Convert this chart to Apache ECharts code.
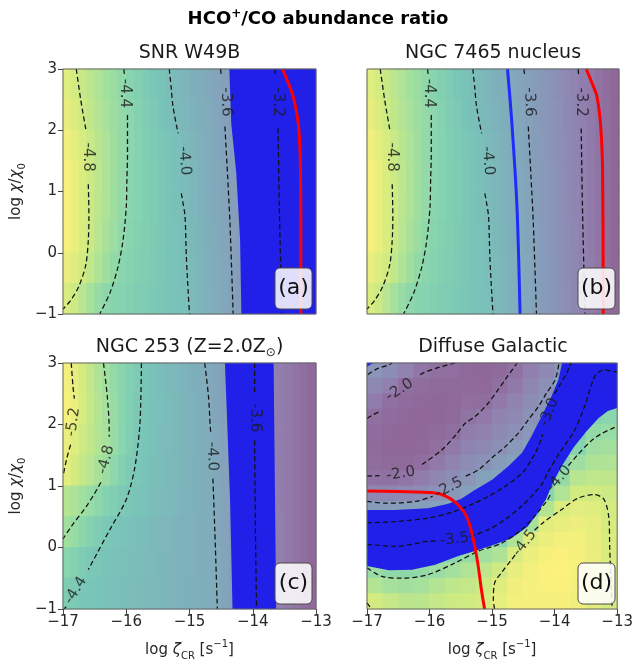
<!DOCTYPE html>
<html><head><meta charset="utf-8">
<script src="https://cdn.jsdelivr.net/npm/echarts@6/dist/echarts.min.js"></script>
<style>html,body{margin:0;padding:0;background:#fff}#c{width:636px;height:666px}</style>
</head><body><div id="c"></div>
<script>
const FONT = "DejaVu Sans";
// ---------- axes ----------
const xTicks = [-17, -16, -15, -14, -13];
const yTicks = [-1, 0, 1, 2, 3];
// ---------- model grid (cell centres) ----------
const cellX32 = [-16.9375,-16.8125,-16.6875,-16.5625,-16.4375,-16.3125,-16.1875,-16.0625,-15.9375,-15.8125,-15.6875,-15.5625,-15.4375,-15.3125,-15.1875,-15.0625,
                 -14.9375,-14.8125,-14.6875,-14.5625,-14.4375,-14.3125,-14.1875,-14.0625,-13.9375,-13.8125,-13.6875,-13.5625,-13.4375,-13.3125,-13.1875,-13.0625];
const cellX16 = [-16.875,-16.625,-16.375,-16.125,-15.875,-15.625,-15.375,-15.125,-14.875,-14.625,-14.375,-14.125,-13.875,-13.625,-13.375,-13.125];
const cellY8 = [2.75,2.25,1.75,1.25,0.75,0.25,-0.25,-0.75];
const cellY16 = [2.875,2.625,2.375,2.125,1.875,1.625,1.375,1.125,0.875,0.625,0.375,0.125,-0.125,-0.375,-0.625,-0.875];
// log(HCO+/CO) for panels (a) and (b)
const ratioAB = [
 [-4.89,-4.82,-4.76,-4.69,-4.62,-4.55,-4.49,-4.42,-4.35,-4.28,-4.21,-4.14,-4.08,-4.01,-3.94,-3.88,-3.82,-3.76,-3.70,-3.64,-3.58,-3.52,-3.46,-3.40,-3.34,-3.28,-3.22,-3.16,-3.11,-3.05,-2.99,-2.93],
 [-4.93,-4.86,-4.79,-4.72,-4.65,-4.58,-4.51,-4.44,-4.38,-4.31,-4.24,-4.17,-4.10,-4.03,-3.96,-3.90,-3.84,-3.78,-3.72,-3.66,-3.60,-3.54,-3.48,-3.42,-3.36,-3.30,-3.24,-3.18,-3.12,-3.06,-3.00,-2.94],
 [-4.98,-4.91,-4.84,-4.76,-4.68,-4.61,-4.53,-4.45,-4.38,-4.32,-4.26,-4.20,-4.14,-4.08,-4.02,-3.95,-3.88,-3.81,-3.74,-3.67,-3.61,-3.55,-3.49,-3.43,-3.37,-3.31,-3.25,-3.18,-3.12,-3.06,-3.00,-2.94],
 [-5.01,-4.94,-4.86,-4.78,-4.70,-4.61,-4.53,-4.45,-4.38,-4.32,-4.26,-4.21,-4.15,-4.09,-4.03,-3.97,-3.90,-3.83,-3.76,-3.69,-3.63,-3.56,-3.50,-3.44,-3.37,-3.31,-3.25,-3.18,-3.12,-3.06,-3.00,-2.94],
 [-5.01,-4.94,-4.86,-4.78,-4.69,-4.61,-4.52,-4.44,-4.37,-4.32,-4.26,-4.21,-4.15,-4.10,-4.04,-3.98,-3.91,-3.84,-3.77,-3.70,-3.64,-3.57,-3.50,-3.44,-3.38,-3.31,-3.25,-3.19,-3.12,-3.06,-3.00,-2.94],
 [-5.01,-4.94,-4.86,-4.77,-4.68,-4.59,-4.50,-4.41,-4.35,-4.30,-4.25,-4.20,-4.15,-4.10,-4.05,-4.00,-3.93,-3.86,-3.79,-3.72,-3.65,-3.58,-3.52,-3.45,-3.39,-3.33,-3.26,-3.20,-3.13,-3.07,-3.01,-2.94],
 [-4.95,-4.88,-4.81,-4.72,-4.63,-4.53,-4.43,-4.37,-4.33,-4.28,-4.24,-4.19,-4.15,-4.10,-4.06,-4.01,-3.95,-3.88,-3.80,-3.73,-3.66,-3.59,-3.53,-3.46,-3.40,-3.33,-3.27,-3.20,-3.14,-3.07,-3.01,-2.94],
 [-4.85,-4.78,-4.67,-4.57,-4.47,-4.39,-4.35,-4.32,-4.28,-4.24,-4.21,-4.17,-4.13,-4.09,-4.06,-4.02,-3.96,-3.89,-3.81,-3.74,-3.67,-3.60,-3.53,-3.47,-3.40,-3.34,-3.27,-3.21,-3.14,-3.07,-3.01,-2.94]
];
// panel (c)
const ratioC = [
 [-5.25,-5.17,-5.08,-4.98,-4.88,-4.79,-4.70,-4.62,-4.53,-4.44,-4.37,-4.32,-4.27,-4.22,-4.17,-4.12,-4.08,-4.03,-3.98,-3.91,-3.84,-3.78,-3.71,-3.65,-3.59,-3.54,-3.48,-3.43,-3.38,-3.33,-3.27,-3.22],
 [-5.26,-5.19,-5.09,-5.00,-4.91,-4.82,-4.72,-4.62,-4.53,-4.43,-4.37,-4.32,-4.28,-4.23,-4.19,-4.14,-4.09,-4.05,-3.99,-3.92,-3.85,-3.78,-3.71,-3.64,-3.59,-3.54,-3.48,-3.43,-3.38,-3.33,-3.27,-3.22],
 [-5.20,-5.13,-5.05,-4.98,-4.90,-4.83,-4.73,-4.62,-4.51,-4.40,-4.36,-4.31,-4.27,-4.23,-4.18,-4.14,-4.10,-4.05,-4.01,-3.94,-3.87,-3.79,-3.72,-3.65,-3.59,-3.54,-3.48,-3.43,-3.38,-3.33,-3.27,-3.22],
 [-5.16,-5.08,-5.00,-4.92,-4.84,-4.76,-4.66,-4.55,-4.45,-4.38,-4.34,-4.30,-4.26,-4.22,-4.18,-4.14,-4.10,-4.06,-4.02,-3.95,-3.88,-3.80,-3.73,-3.65,-3.59,-3.54,-3.48,-3.43,-3.38,-3.33,-3.27,-3.22],
 [-4.91,-4.86,-4.79,-4.72,-4.65,-4.57,-4.50,-4.43,-4.38,-4.34,-4.31,-4.27,-4.24,-4.20,-4.16,-4.13,-4.09,-4.06,-4.02,-3.97,-3.89,-3.81,-3.74,-3.66,-3.60,-3.54,-3.49,-3.43,-3.38,-3.33,-3.27,-3.22],
 [-4.79,-4.72,-4.64,-4.56,-4.49,-4.41,-4.37,-4.34,-4.31,-4.28,-4.25,-4.22,-4.19,-4.16,-4.13,-4.10,-4.07,-4.04,-4.02,-3.98,-3.90,-3.82,-3.75,-3.67,-3.60,-3.55,-3.49,-3.44,-3.38,-3.33,-3.27,-3.22],
 [-4.62,-4.55,-4.48,-4.41,-4.38,-4.35,-4.33,-4.30,-4.28,-4.25,-4.23,-4.20,-4.18,-4.15,-4.12,-4.10,-4.07,-4.05,-4.02,-3.99,-3.91,-3.83,-3.75,-3.67,-3.60,-3.55,-3.49,-3.44,-3.38,-3.33,-3.27,-3.22],
 [-4.48,-4.43,-4.39,-4.37,-4.35,-4.33,-4.30,-4.28,-4.26,-4.24,-4.21,-4.19,-4.17,-4.15,-4.12,-4.10,-4.08,-4.06,-4.03,-3.99,-3.91,-3.83,-3.75,-3.67,-3.60,-3.55,-3.49,-3.44,-3.38,-3.33,-3.27,-3.22]
];
// panel (d)
const ratioD = [
 [-2.55,-2.42,-2.25,-2.05,-1.98,-1.95,-1.88,-1.87,-1.90,-2.02,-2.20,-2.35,-2.58,-3.12,-3.46,-3.50],
 [-2.35,-2.20,-1.98,-1.93,-1.90,-1.90,-1.90,-1.88,-1.98,-2.12,-2.30,-2.45,-2.98,-3.22,-3.55,-3.60],
 [-2.16,-1.98,-1.92,-1.88,-1.87,-1.88,-1.95,-1.93,-2.12,-2.25,-2.40,-2.55,-3.12,-3.33,-3.65,-3.72],
 [-1.98,-1.92,-1.88,-1.86,-1.87,-1.90,-2.03,-2.10,-2.25,-2.35,-2.48,-2.70,-3.25,-3.43,-3.77,-3.85],
 [-1.92,-1.88,-1.86,-1.86,-1.90,-1.97,-2.15,-2.22,-2.35,-2.45,-2.60,-3.03,-3.37,-3.58,-3.93,-3.97],
 [-1.90,-1.87,-1.86,-1.88,-1.96,-2.10,-2.28,-2.35,-2.47,-2.62,-2.80,-3.19,-3.49,-3.78,-4.06,-4.10],
 [-1.93,-1.90,-1.90,-1.95,-2.10,-2.25,-2.40,-2.50,-2.68,-2.80,-3.05,-3.34,-3.70,-4.05,-4.18,-4.20],
 [-2.02,-2.00,-2.05,-2.15,-2.30,-2.42,-2.55,-2.78,-2.85,-3.00,-3.30,-3.48,-3.95,-4.25,-4.32,-4.30],
 [-2.33,-2.33,-2.35,-2.42,-2.48,-2.60,-2.75,-2.95,-3.05,-3.25,-3.52,-3.83,-4.20,-4.45,-4.45,-4.40],
 [-2.67,-2.67,-2.70,-2.73,-2.80,-2.97,-3.09,-3.20,-3.30,-3.50,-3.75,-4.22,-4.52,-4.57,-4.55,-4.46],
 [-3.05,-3.08,-3.08,-3.10,-3.17,-3.28,-3.33,-3.40,-3.55,-3.82,-4.12,-4.58,-4.62,-4.65,-4.60,-4.48],
 [-3.39,-3.38,-3.40,-3.43,-3.47,-3.55,-3.60,-3.70,-3.85,-4.20,-4.55,-4.65,-4.70,-4.70,-4.62,-4.50],
 [-3.69,-3.65,-3.63,-3.66,-3.75,-3.82,-3.96,-4.07,-4.18,-4.50,-4.65,-4.72,-4.75,-4.72,-4.63,-4.50],
 [-3.98,-3.90,-3.88,-3.92,-4.00,-4.10,-4.20,-4.30,-4.43,-4.62,-4.70,-4.75,-4.76,-4.72,-4.62,-4.50],
 [-4.22,-4.12,-4.08,-4.12,-4.22,-4.30,-4.35,-4.42,-4.55,-4.68,-4.72,-4.75,-4.75,-4.70,-4.60,-4.49],
 [-4.46,-4.36,-4.28,-4.28,-4.36,-4.42,-4.44,-4.48,-4.60,-4.70,-4.72,-4.72,-4.72,-4.68,-4.58,-4.48]
];
// ---------- contours (segments broken where the inline labels sit) ----------
const contourAB = [
 [[-16.79,3],[-16.72,2.5],[-16.64,2.02]],
 [[-16.6,1.12],[-16.59,0.6],[-16.6,0.2],[-16.64,-0.2],[-16.75,-0.55],[-16.88,-0.78],[-17,-0.92]],
 [[-16.04,3],[-16.03,2.92]],
 [[-15.98,2.25],[-15.98,1.6],[-15.99,1.19],[-16.0,0.75],[-16.05,0.21],[-16.13,-0.23],[-16.26,-0.66],[-16.42,-1]],
 [[-15.32,3],[-15.29,2.7],[-15.26,2.38],[-15.18,1.95]],
 [[-15.13,0.97],[-15.1,0.8],[-15.07,0.59],[-15.05,-0.06],[-15.02,-0.66],[-15.0,-1]],
 [[-14.51,3],[-14.5,2.92]],
 [[-14.44,2.06],[-14.4,1.3],[-14.36,0.48],[-14.31,-1]],
 [[-13.65,3],[-13.64,2.9]],
 [[-13.6,2.03],[-13.58,0.75],[-13.54,-1]]
];
const labelsAB = [[-16.6,1.56,'-4.8',-90],[-16.02,2.6,'-4.4',-90],[-15.08,1.5,'-4.0',-85],[-14.42,2.46,'-3.6',-88],[-13.61,2.46,'-3.2',-90]];
const redA = [[-13.53,3],[-13.43,2.75],[-13.36,2.55],[-13.28,2.11],[-13.25,1.57],[-13.24,0.5],[-13.24,-1]];
const blueZoneA = [[[-14.37,3],[-14.34,2.11],[-14.26,1.3],[-14.2,0.21],[-14.18,-1],[-13,-1],[-13,3]]];
const redB = [[-13.52,3],[-13.42,2.75],[-13.35,2.55],[-13.29,2.06],[-13.26,1.3],[-13.25,-1]];
const blueLineB = [[-14.77,3],[-14.7,2.11],[-14.62,0.76],[-14.57,-1]];

const contourC = [
 [[-16.87,3],[-16.84,2.6],[-16.82,2.42]],
 [[-16.88,1.67],[-16.94,1.45],[-16.99,1.21]],
 [[-16.36,3],[-16.3,2.46],[-16.27,1.92],[-16.27,1.8]],
 [[-16.4,1.06],[-16.5,0.88],[-16.63,0.67],[-16.87,0.34],[-17,0.14]],
 [[-15.76,3],[-15.77,2.4],[-15.79,1.92],[-15.87,1.27],[-16.0,0.78],[-16.26,0.29],[-16.6,-0.36]],
 [[-16.95,-0.96],[-16.98,-1]],
 [[-14.76,3],[-14.7,2.46],[-14.67,1.94],[-14.66,1.84]],
 [[-14.63,1.12],[-14.6,0.29],[-14.56,-1]],
 [[-13.97,3],[-13.97,2.48]],
 [[-13.97,1.74],[-13.96,0.5],[-13.94,-1]]
];
const labelsC = [[-16.84,2.04,'-5.2',82],[-16.32,1.43,'-4.8',75],[-16.8,-0.7,'-4.4',58],[-14.64,1.48,'-4.0',-88],[-13.97,2.11,'-3.6',-90]];
const blueZoneC = [[[-14.44,3],[-14.4,1.92],[-14.36,0.83],[-14.32,-1],[-13.63,-1],[-13.65,1.0],[-13.67,3]]];

const contourD = [
 [[-17,2.1],[-16.9,2.16],[-16.8,2.21]],
 [[-16.15,2.81],[-16.1,2.84],[-15.85,2.93],[-15.59,3.0]],
 [[-16.99,2.81],[-16.85,2.9],[-16.65,2.97],[-16.6,3.0]],
 [[-17,1.16],[-16.8,1.17]],
 [[-16.12,1.35],[-15.8,1.59],[-15.58,1.83],[-15.43,2.02],[-15.27,2.13],[-15.06,2.35],[-14.9,2.57],[-14.79,2.73],[-14.6,3.0]],
 [[-17,0.75],[-16.69,0.72],[-16.22,0.75],[-15.95,0.83]],
 [[-15.42,1.16],[-15.21,1.27],[-15.0,1.46],[-14.79,1.64],[-14.58,1.86],[-14.42,2.08],[-14.26,2.29],[-14.13,2.51],[-13.99,2.73],[-13.93,3.0]],
 [[-17,0.40],[-16.55,0.42],[-16.02,0.48],[-15.59,0.59],[-15.33,0.70],[-15.06,0.83],[-14.80,0.99],[-14.52,1.21],[-14.37,1.43],[-14.26,1.64],[-14.19,1.84]],
 [[-14.0,2.5],[-13.94,2.6],[-13.8,2.85],[-13.74,3.0]],
 [[-17,0.05],[-16.55,0.02],[-16.02,0.10],[-15.85,0.11]],
 [[-15.35,0.18],[-15.06,0.29],[-14.80,0.45],[-14.53,0.67],[-14.32,0.89],[-14.19,1.05],[-14.11,1.22],[-13.90,1.57],[-13.69,1.89],[-13.53,2.27],[-13.37,2.76],[-13.3,2.85],[-13.2,2.89],[-13.06,2.86],[-13,2.86]],
 [[-17,-0.33],[-16.76,-0.47],[-16.44,-0.50],[-16.02,-0.44],[-15.59,-0.25],[-15.22,-0.06],[-14.85,0.07],[-14.53,0.29],[-14.32,0.51],[-14.11,0.78],[-14.06,0.88]],
 [[-13.78,1.33],[-13.63,1.51],[-13.42,1.73],[-13.27,1.84],[-13.05,1.95],[-13,1.97]],
 [[-14.96,-1],[-14.98,-0.85],[-14.96,-0.58],[-14.85,-0.41],[-14.69,-0.2],[-14.63,-0.12]],
 [[-14.32,0.28],[-14.19,0.40],[-13.90,0.61],[-13.63,0.80],[-13.37,0.86],[-13.21,0.78],[-13.13,0.45],[-13.12,0.02],[-13.10,-0.52],[-13.08,-1.0]],
 [[-17,-0.9],[-16.93,-1.0]]
];
const labelsD = [[-16.48,2.56,'-2.0',33],[-16.46,1.2,'-2.0',10],[-15.69,0.97,'-2.5',28],[-14.09,2.2,'-3.0',68],[-15.6,0.13,'-3.5',6],[-13.93,1.12,'-4.0',50],[-14.48,0.07,'-4.5',52]];
const redD = [[-17,0.92],[-16.5,0.91],[-15.94,0.89],[-15.75,0.84],[-15.57,0.72],[-15.41,0.51],[-15.31,0.18],[-15.23,-0.25],[-15.17,-0.69],[-15.12,-1.0]];
const blueZoneD = [
 [[-17,0.61],[-16.55,0.61],[-16.02,0.64],[-15.7,0.71],[-15.5,0.79],[-15.27,0.94],[-15.0,1.10],[-14.74,1.32],[-14.52,1.54],[-14.37,1.81],[-14.21,2.13],[-14.05,2.46],[-13.94,2.73],[-13.88,3.0],[-13,3.0],[-13,2.27],[-13.15,2.22],[-13.3,2.1],[-13.5,1.88],[-13.7,1.62],[-13.9,1.3],[-14.05,1.0],[-14.14,0.78],[-14.27,0.56],[-14.43,0.34],[-14.69,0.15],[-14.96,0.05],[-15.22,-0.04],[-15.54,-0.14],[-15.91,-0.28],[-16.28,-0.36],[-16.65,-0.37],[-17,-0.30]],
 [[-17,3],[-16.9,3],[-17,2.94]]
];
const panelTitles = ['{n|SNR W49B}', '{n|NGC 7465 nucleus}', '{n|NGC 253 (Z=2.0Z}{s|⊙}{n|)}', '{n|Diffuse Galactic}'];
const panelTags = ['(a)', '(b)', '(c)', '(d)'];

// ---------- layout ----------
const grids = [
 {left:63, top:69, width:253, height:245},
 {left:367, top:69, width:252, height:245},
 {left:63, top:363, width:253, height:246},
 {left:367, top:363, width:252, height:246}
];
const viridisFaded = ['#fef17c','#d2eb80','#a7e19b','#86d4af','#79c5b8','#7db4bb','#83a4bb','#8b92b8','#917eae','#8f6798'];
const BLUE = '#2020e8';

const series = [];
function addCells(g, xs, ys, rows, hx, hy) {
  const data = [];
  rows.forEach((row, j) => row.forEach((v, i) => data.push([xs[i], ys[j], v])));
  series.push({type:'custom', xAxisIndex:g, yAxisIndex:g, data, silent:true, z:1, animation:false,
    encode:{x:0, y:1},
    renderItem(params, api) {
      const x = api.value(0), y = api.value(1);
      const p0 = api.coord([x - hx, y + hy]), p1 = api.coord([x + hx, y - hy]);
      return {type:'rect', shape:{x:p0[0]-0.4, y:p0[1]-0.4, width:p1[0]-p0[0]+0.8, height:p1[1]-p0[1]+0.8},
              style:{fill: api.visual('color')}};
    }});
  return series.length - 1;
}
function addPolygons(g, polys, color) {
  series.push({type:'custom', xAxisIndex:g, yAxisIndex:g, data: polys.map(p => p[0]), encode:{x:0, y:1},
    silent:true, z:2, clip:true, animation:false,
    renderItem(params, api) {
      return {type:'polygon', shape:{points: polys[params.dataIndex].map(pt => api.coord(pt))}, style:{fill: color}};
    }});
}
function addLines(g, segs, lineStyle, z) {
  segs.forEach(seg => series.push({type:'line', xAxisIndex:g, yAxisIndex:g, data: seg, symbol:'none',
    smooth:0.3, lineStyle, silent:true, z, animation:false}));
}
function addLabels(g, labels) {
  series.push({type:'scatter', xAxisIndex:g, yAxisIndex:g, symbolSize:1, itemStyle:{color:'rgba(0,0,0,0)'},
    silent:true, z:5, animation:false,
    data: labels.map(l => ({value:[l[0], l[1]], name:l[2], label:{rotate:l[3]}})),
    label:{show:true, position:'inside', formatter:'{b}', fontSize:15, color:'#1a1a1a', fontFamily:FONT}});
}
const dashed = {color:'#111', width:1.25, type:[5,3]};
const redStyle = {color:'#ff0000', width:3};

const cA = addCells(0, cellX32, cellY8, ratioAB, 0.0625, 0.25);
addPolygons(0, blueZoneA, BLUE);
addLines(0, contourAB, dashed, 3);
addLines(0, [redA], redStyle, 4);
addLabels(0, labelsAB);

const cB = addCells(1, cellX32, cellY8, ratioAB, 0.0625, 0.25);
addLines(1, contourAB, dashed, 3);
addLines(1, [blueLineB], {color:'#1f2cff', width:3}, 4);
addLines(1, [redB], redStyle, 4);
addLabels(1, labelsAB);

const cC = addCells(2, cellX32, cellY8, ratioC, 0.0625, 0.25);
addPolygons(2, blueZoneC, BLUE);
addLines(2, contourC, dashed, 3);
addLabels(2, labelsC);

const cD = addCells(3, cellX16, cellY16, ratioD, 0.125, 0.125);
addPolygons(3, blueZoneD, BLUE);
addLines(3, contourD, dashed, 3);
addLines(3, [redD], redStyle, 4);
addLabels(3, labelsD);

const minus = v => String(v).replace('-', '\u2212');
const xAxes = grids.map((g, i) => {
  const bottom = i >= 2;
  return {gridIndex:i, type:'value', min:xTicks[0], max:xTicks[xTicks.length-1], interval:1, z:10,
    axisLine:{show:false, onZero:false}, splitLine:{show:false},
    axisTick:{show:bottom, length:5, lineStyle:{color:'#444'}},
    axisLabel:{show:bottom, formatter:minus, fontSize:15, color:'#262626', fontFamily:FONT, margin:6},
    name: bottom ? '{n|log }{i|ζ}{s|CR}{n| [s}{p|−1}{n|]}' : '', nameLocation:'middle', nameGap:30,
    nameTextStyle:{fontFamily:FONT, rich:{
      n:{fontSize:15, color:'#262626', fontFamily:FONT, lineHeight:22},
      i:{fontSize:15, color:'#262626', fontFamily:FONT, fontStyle:'italic', lineHeight:22},
      s:{fontSize:10, color:'#262626', fontFamily:FONT, verticalAlign:'bottom', lineHeight:13},
      p:{fontSize:10, color:'#262626', fontFamily:FONT, verticalAlign:'top', lineHeight:13}}}};
});
const yAxes = grids.map((g, i) => {
  const left = i % 2 === 0;
  return {gridIndex:i, type:'value', min:yTicks[0], max:yTicks[yTicks.length-1], interval:1, z:10,
    axisLine:{show:false, onZero:false}, splitLine:{show:false},
    axisTick:{show:left, length:5, lineStyle:{color:'#444'}},
    axisLabel:{show:left, formatter:minus, fontSize:15, color:'#262626', fontFamily:FONT, margin:6},
    name: left ? '{n|log }{i|χ}{n|/}{i|χ}{s|0}' : '', nameLocation:'middle', nameRotate:90, nameGap:36,
    nameTextStyle:{fontFamily:FONT, rich:{
      n:{fontSize:15, color:'#262626', fontFamily:FONT, lineHeight:22},
      i:{fontSize:15, color:'#262626', fontFamily:FONT, fontStyle:'italic', lineHeight:22},
      s:{fontSize:10, color:'#262626', fontFamily:FONT, verticalAlign:'bottom', lineHeight:13}}}};
});

const graphic = [{type:'text', x:318, y:19, z:100, style:{
  text:'{b|HCO}{s|+}{b|/CO abundance ratio}', align:'center', verticalAlign:'middle',
  textAlign:'center', textVerticalAlign:'middle',
  rich:{b:{fontSize:18, fontWeight:'bold', fontFamily:FONT, fill:'#000', lineHeight:22},
        s:{fontSize:12, fontWeight:'bold', fontFamily:FONT, fill:'#000', lineHeight:12, verticalAlign:'top'}}}}];
grids.forEach((g, i) => {
  const cx = g.left + g.width / 2;
  const cy = i < 2 ? 53 : 347;
  graphic.push({type:'text', x:cx, y:cy, z:100, style:{text:panelTitles[i], align:'center', verticalAlign:'middle',
    textAlign:'center', textVerticalAlign:'middle',
    rich:{n:{fontSize:19, fontFamily:FONT, fill:'#1a1a1a', lineHeight:24},
          s:{fontSize:12, fontFamily:FONT, fill:'#1a1a1a', lineHeight:14, verticalAlign:'bottom'}}}});
  const bx = g.left + g.width - 4 - 37, by = g.top + g.height - 5 - 41;
  graphic.push({type:'rect', z:100, shape:{x:bx, y:by, width:37, height:41, r:5},
    style:{fill:'rgba(255,255,255,0.86)', stroke:'#4a4a4a', lineWidth:1}});
  graphic.push({type:'text', z:101, x:bx + 18.5, y:by + 20.5, style:{text:panelTags[i], font:'22px ' + FONT, fill:'#111',
    align:'center', verticalAlign:'middle', textAlign:'center', textVerticalAlign:'middle'}});
});

const option = {
  animation:false,
  backgroundColor:'#fff',
  textStyle:{fontFamily:FONT},
  grid: grids.map(g => Object.assign({show:true, z:10, backgroundColor:'transparent', borderColor:'#666', borderWidth:1}, g)),
  xAxis: xAxes,
  yAxis: yAxes,
  visualMap: [
    {type:'continuous', show:false, dimension:2, seriesIndex:[cA, cB], min:-5.05, max:-2.93, inRange:{color:viridisFaded}},
    {type:'continuous', show:false, dimension:2, seriesIndex:[cC], min:-5.3, max:-3.2, inRange:{color:viridisFaded}},
    {type:'continuous', show:false, dimension:2, seriesIndex:[cD], min:-4.78, max:-1.85, inRange:{color:viridisFaded}}
  ],
  graphic,
  series
};
const chart = echarts.init(document.getElementById('c'), null, {renderer:'canvas'});
chart.setOption(option);
</script></body></html>
